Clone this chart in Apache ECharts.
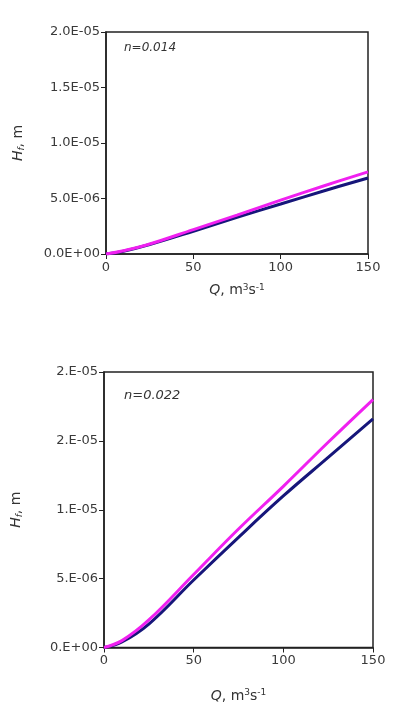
<!DOCTYPE html>
<html>
<head>
<meta charset="utf-8">
<script src="https://cdn.jsdelivr.net/npm/echarts@6/dist/echarts.min.js"></script>
<style>
  * { margin: 0; padding: 0; }
  body { background: #fff; }
  #chart { width: 404px; height: 704px; }
</style>
</head>
<body>
<div id="chart"></div>
<script>
// discharge Q, m3/s
const qValues = [0, 10, 25, 50, 75, 100, 125, 150];

// n = 0.014
const topNavy    = [0, 0.25e-6, 0.85e-6, 2.05e-6, 3.3e-6, 4.5e-6, 5.7e-6, 6.85e-6];
const topMagenta = [0, 0.3e-6, 0.9e-6, 2.2e-6, 3.5e-6, 4.85e-6, 6.15e-6, 7.4e-6];

// n = 0.022
const botNavy    = [0, 0.4e-6, 1.7e-6, 4.9e-6, 8.0e-6, 1.10e-5, 1.38e-5, 1.66e-5];
const botMagenta = [0, 0.5e-6, 2.0e-6, 5.3e-6, 8.6e-6, 1.17e-5, 1.49e-5, 1.80e-5];

// tick labels as printed in the original (interval 5e-6)
const topTickLabels = ['0.0E+00', '5.0E-06', '1.0E-05', '1.5E-05', '2.0E-05'];
const botTickLabels = ['0.E+00', '5.E-06', '1.E-05', '2.E-05', '2.E-05'];

function pairs(ys) {
  return qValues.map((q, i) => [q, ys[i]]);
}

const labelStyle = { fontFamily: 'DejaVu Sans', fontSize: 13, color: '#3a3a3a' };
const axisLine = { show: true, onZero: false, lineStyle: { color: '#222', width: 1.5 } };
const axisTick = { show: true, length: 5, lineStyle: { color: '#222', width: 1 } };

const yName = {
  i: { fontFamily: 'DejaVu Sans', fontStyle: 'italic', fontSize: 14, color: '#333' },
  sub: { fontFamily: 'DejaVu Sans', fontStyle: 'italic', fontSize: 9, color: '#333', verticalAlign: 'bottom', padding: [6, 0, 0, 0] },
  n: { fontFamily: 'DejaVu Sans', fontSize: 14, color: '#333' }
};
const xName = {
  i: { fontFamily: 'DejaVu Sans', fontStyle: 'italic', fontSize: 14, color: '#333' },
  n: { fontFamily: 'DejaVu Sans', fontSize: 14, color: '#333' },
  sup: { fontFamily: 'DejaVu Sans', fontSize: 9, color: '#333', verticalAlign: 'top', padding: [0, 0, 6, 0] }
};

function yAxis(gridIndex, labels) {
  return {
    type: 'value', gridIndex: gridIndex, min: 0, max: 2e-5, interval: 5e-6,
    splitLine: { show: false }, axisLine: axisLine, axisTick: axisTick,
    axisLabel: Object.assign({ margin: 6, formatter: v => labels[Math.round(v / 5e-6)] }, labelStyle),
    name: '{i|H}{sub|f}{n|, m}', nameLocation: 'middle', nameRotate: 90, nameGap: 80,
    nameTextStyle: { rich: yName }
  };
}

function xAxis(gridIndex, gap) {
  return {
    type: 'value', gridIndex: gridIndex, min: 0, max: 150, interval: 50,
    splitLine: { show: false }, axisLine: axisLine, axisTick: axisTick,
    axisLabel: Object.assign({ margin: 7 }, labelStyle),
    name: '{i|Q}{n|, m}{sup|3}{n|s}{sup|-1}', nameLocation: 'middle', nameGap: gap,
    nameTextStyle: { rich: xName }
  };
}

function line(idx, ys, color) {
  return {
    type: 'line', xAxisIndex: idx, yAxisIndex: idx, data: pairs(ys),
    smooth: 0.4, showSymbol: false, lineStyle: { color: color, width: 3 }
  };
}

const chart = echarts.init(document.getElementById('chart'));
chart.setOption({
  animation: false,
  backgroundColor: '#fff',
  grid: [
    { left: 106, right: 36, top: 32, height: 222, show: true, borderColor: '#222', borderWidth: 1.5 },
    { left: 104, right: 31, top: 372, height: 280, show: true, borderColor: '#222', borderWidth: 1.5 }
  ],
  xAxis: [xAxis(0, 29), xAxis(1, 41)],
  yAxis: [yAxis(0, topTickLabels), yAxis(1, botTickLabels)],
  graphic: [
    { type: 'text', left: 124, top: 42, style: { text: 'n=0.014', font: 'italic 12px "DejaVu Sans"', fill: '#333' } },
    { type: 'text', left: 124, top: 389, style: { text: 'n=0.022', font: 'italic 13px "DejaVu Sans"', fill: '#333' } }
  ],
  series: [
    line(0, topNavy, '#16167a'),
    line(0, topMagenta, '#f020f0'),
    line(1, botNavy, '#16167a'),
    line(1, botMagenta, '#f020f0')
  ]
});
</script>
</body>
</html>
